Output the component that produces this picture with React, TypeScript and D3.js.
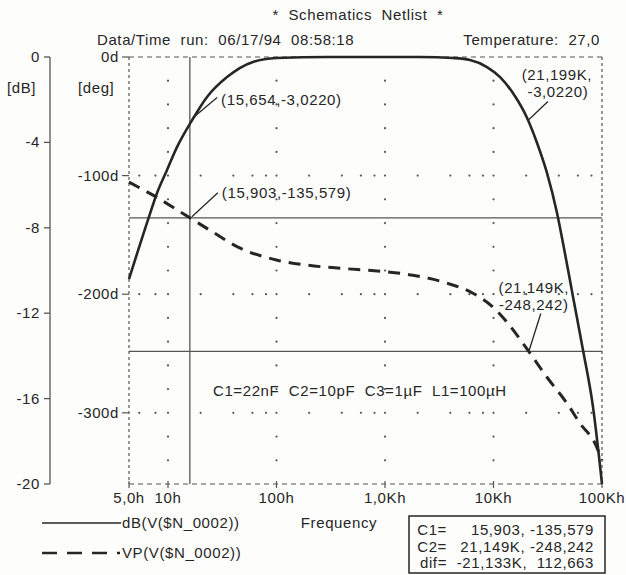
import React from "react";
import * as d3 from "d3";

// ---- data ----
const dbFreq = [5, 7.13, 8.23, 9.83, 12.1, 16.3, 22.9, 35, 60.7, 100, 300, 1000, 2100, 4230, 6070, 8700, 11500, 15100, 20400, 25200, 31100, 38500, 43700, 54100, 66800, 82600, 100000];
const dbValues = [-10.4, -7.49, -6.37, -5.29, -4.22, -3.04, -1.87, -0.94, -0.23, -0.05, 0, 0, 0, -0.05, -0.14, -0.47, -0.94, -1.69, -2.86, -4.03, -5.43, -7.31, -8.71, -11.24, -13.72, -16.39, -20];

const phFreq = [5, 7.66, 15.9, 26, 44.2, 102, 191, 385, 899, 1810, 3730, 6470, 9900, 13300, 20800, 31100, 47600, 62700, 86200, 100000];
const phValues = [-105.5, -116.5, -135.6, -147.7, -160.3, -171.3, -175.5, -178.1, -180.6, -184.0, -190.7, -199.2, -211.0, -223.6, -247.3, -270.0, -292.0, -308.9, -325.7, -340];

const freqTicks = [5, 10, 100, 1000, 10000, 100000];
const freqTickLabels = ["5,0h", "10h", "100h", "1,0Kh", "10Kh", "100Kh"];
const dbTicks = [0, -4, -8, -12, -16, -20];
const degTicks = [0, -100, -200, -300];
const degTickLabels = ["0d", "-100d", "-200d", "-300d"];
const gridDecades = [10, 100, 1000, 10000];
const gridRowFreqs = [6, 8, 10, 20, 40, 60, 80, 100, 200, 400, 600, 800, 1000, 2000, 4000, 6000, 8000, 10000, 20000, 40000, 60000, 80000];
const gridRowDegs = [-100, -200, -300];
const gridColDegs = [-20, -40, -60, -80, -120, -140, -160, -180, -220, -240, -260, -280, -320, -340];

const cursor1 = { freq: 15.903, deg: -135.579 };
const cursor2 = { freq: 21149, deg: -248.242 };
const mark1 = { freq: 15.654, db: -3.022, label: ["(15,654,-3,0220)"] };
const mark2 = { freq: 15.903, deg: -135.579, label: ["(15,903,-135,579)"] };
const mark3 = { freq: 21199, db: -3.022, label: ["(21,199K,", "-3,0220)"] };
const mark4 = { freq: 21149, deg: -248.242, label: ["(21,149K,", "-248,242)"] };

const title = "*  Schematics  Netlist  *";
const runInfo = "Data/Time  run:  06/17/94  08:58:18";
const tempInfo = "Temperature:  27,0";
const partsInfo = "C1=22nF  C2=10pF  C3=1\u00B5F  L1=100\u00B5H";
const legendDb = "dB(V($N_0002))";
const legendVp = "VP(V($N_0002))";
const boxRows = [
  ["C1=", "15,903, -135,579"],
  ["C2=", "21,149K, -248,242"],
  ["dif=", "-21,133K,  112,663"],
];

// ---- layout ----
const W = 626, H = 575;
const L = 129, R = 602, T = 57, B = 484;
const X10 = 168;
const INK = "#262626";
const GRAY = "#555";
const FONT = "'Liberation Sans', Arial, Helvetica, sans-serif";

export default function App() {
  const x = d3.scaleLog().domain([5, 10, 100000]).range([L, X10, R]);
  const yDb = d3.scaleLinear().domain([-20, 0]).range([B, T]);
  const yDeg = d3.scaleLinear().domain([-360, 0]).range([B, T]);

  const dbLine = d3.line<number>()
    .x((_, i) => x(dbFreq[i]))
    .y((d) => yDb(d))
    .curve(d3.curveMonotoneX)(dbValues) || "";
  const phLine = d3.line<number>()
    .x((_, i) => x(phFreq[i]))
    .y((d) => yDeg(d))
    .curve(d3.curveMonotoneX)(phValues) || "";

  const txt = { fontFamily: FONT, fontSize: 15, fill: INK, letterSpacing: 0.6 } as const;
  const pre = { whiteSpace: "pre" } as const;

  const m1 = { x: x(mark1.freq), y: yDb(mark1.db) };
  const m2 = { x: x(mark2.freq), y: yDeg(mark2.deg) };
  const m3 = { x: x(mark3.freq), y: yDb(mark3.db) };
  const m4 = { x: x(mark4.freq), y: yDeg(mark4.deg) };

  return (
    <svg width={W} height={H} style={{ position: "fixed", left: 0, top: 0, background: "#fdfdfc" }}>
      <rect x={0} y={0} width={W} height={H} fill="#fdfdfc" />
      {/* headers */}
      <text x={358} y={20} textAnchor="middle" {...txt} style={pre}>{title}</text>
      <text x={97} y={45} {...txt} style={pre}>{runInfo}</text>
      <text x={600} y={45} textAnchor="end" {...txt} style={pre}>{tempInfo}</text>

      {/* frame */}
      <line x1={L} x2={R} y1={T} y2={T} stroke={GRAY} strokeWidth={1.2} strokeDasharray="5,4" />
      <line x1={L} x2={R} y1={B} y2={B} stroke={GRAY} strokeWidth={1.2} strokeDasharray="5,4" />
      <line x1={L} x2={L} y1={T} y2={B} stroke={GRAY} strokeWidth={1.2} strokeDasharray="3,3" />
      <line x1={R} x2={R} y1={T} y2={B} stroke={GRAY} strokeWidth={1.2} strokeDasharray="3,3" />

      {/* grid dots */}
      {gridDecades.map((f) =>
        gridColDegs.map((dg) => (
          <circle key={`c${f}_${dg}`} cx={x(f)} cy={yDeg(dg)} r={1.1} fill={GRAY} />
        ))
      )}
      {gridRowDegs.map((dg) =>
        gridRowFreqs.map((f) => (
          <circle key={`r${f}_${dg}`} cx={x(f)} cy={yDeg(dg)} r={1.1} fill={GRAY} />
        ))
      )}

      {/* dB axis */}
      <line x1={50} x2={50} y1={yDb(0)} y2={yDb(-20)} stroke={GRAY} strokeWidth={1.3} />
      {dbTicks.map((t) => (
        <g key={`db${t}`}>
          <line x1={44} x2={50} y1={yDb(t)} y2={yDb(t)} stroke={GRAY} strokeWidth={1.3} />
          <text x={40} y={yDb(t) + 5} textAnchor="end" {...txt}>{String(t)}</text>
        </g>
      ))}
      <text x={7} y={93} {...txt}>[dB]</text>
      <text x={78} y={93} {...txt}>[deg]</text>

      {/* deg axis */}
      {degTicks.map((t, i) => (
        <g key={`dg${t}`}>
          <line x1={122} x2={L} y1={yDeg(t)} y2={yDeg(t)} stroke={GRAY} strokeWidth={1.2} />
          <text x={119} y={yDeg(t) + 5} textAnchor="end" {...txt}>{degTickLabels[i]}</text>
        </g>
      ))}

      {/* frequency axis */}
      {freqTicks.map((f, i) => (
        <g key={`f${f}`}>
          <line x1={x(f)} x2={x(f)} y1={B - 3} y2={B + 4} stroke={GRAY} strokeWidth={1.2} />
          <text x={x(f)} y={503} textAnchor="middle" {...txt}>{freqTickLabels[i]}</text>
        </g>
      ))}
      <text x={339} y={528} textAnchor="middle" {...txt}>Frequency</text>

      {/* cursors */}
      <line x1={x(cursor1.freq)} x2={x(cursor1.freq)} y1={T} y2={B} stroke={GRAY} strokeWidth={1.3} />
      <line x1={L} x2={R} y1={yDeg(cursor1.deg)} y2={yDeg(cursor1.deg)} stroke={GRAY} strokeWidth={1.3} />
      <line x1={L} x2={R} y1={yDeg(cursor2.deg)} y2={yDeg(cursor2.deg)} stroke={GRAY} strokeWidth={1.3} />

      {/* curves */}
      <path d={phLine} fill="none" stroke={INK} strokeWidth={3} strokeDasharray="12,8" />
      <path d={dbLine} fill="none" stroke={INK} strokeWidth={2.6} />

      {/* parts text */}
      <text x={213} y={396} {...txt} style={pre}>{partsInfo}</text>

      {/* annotations */}
      <line x1={m1.x + 3} y1={m1.y - 3} x2={m1.x + 28} y2={m1.y - 24} stroke={INK} strokeWidth={1.3} />
      <text x={m1.x + 32} y={m1.y - 17} {...txt}>{mark1.label[0]}</text>

      <line x1={m2.x + 2} y1={m2.y - 1} x2={m2.x + 28} y2={m2.y - 25} stroke={INK} strokeWidth={1.3} />
      <text x={m2.x + 32} y={m2.y - 20} {...txt}>{mark2.label[0]}</text>

      <line x1={m3.x - 1} y1={m3.y - 1} x2={m3.x + 19} y2={m3.y - 20} stroke={INK} strokeWidth={1.3} />
      <text x={m3.x + 28} y={m3.y - 42} textAnchor="middle" {...txt}>{mark3.label[0]}</text>
      <text x={m3.x + 29} y={m3.y - 25} textAnchor="middle" {...txt}>{mark3.label[1]}</text>

      <line x1={m4.x} y1={m4.y} x2={m4.x + 12} y2={m4.y - 38} stroke={INK} strokeWidth={1.3} />
      <text x={m4.x + 5} y={m4.y - 58} textAnchor="middle" {...txt}>{mark4.label[0]}</text>
      <text x={m4.x + 5} y={m4.y - 41} textAnchor="middle" {...txt}>{mark4.label[1]}</text>

      {/* legend */}
      <line x1={42} x2={121} y1={523} y2={523} stroke={INK} strokeWidth={1.6} />
      <text x={122} y={528} {...txt}>{legendDb}</text>
      <line x1={42} x2={120} y1={553} y2={553} stroke={INK} strokeWidth={2.6} strokeDasharray="15,10" />
      <text x={122} y={558} {...txt}>{legendVp}</text>

      {/* cursor box */}
      <rect x={409} y={516} width={196} height={57} fill="none" stroke={INK} strokeWidth={1.5} />
      {boxRows.map((r, i) => (
        <g key={r[0]}>
          <text x={447} y={535 + i * 16.5} textAnchor="end" {...txt}>{r[0]}</text>
          <text x={594} y={535 + i * 16.5} textAnchor="end" {...txt} style={pre}>{r[1]}</text>
        </g>
      ))}
    </svg>
  );
}
